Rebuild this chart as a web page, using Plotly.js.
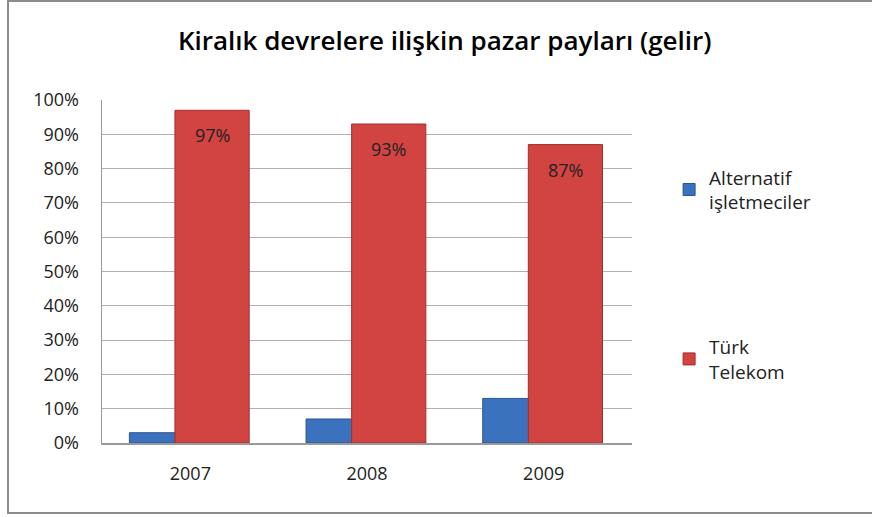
<!DOCTYPE html>
<html><head><meta charset="utf-8">
<script src="https://cdn.plot.ly/plotly-3.0.1.min.js"></script>
<style>body{margin:0;padding:0;background:#fff;overflow:hidden}#wrap{position:relative;width:872px;height:517px;overflow:hidden}#frame{position:absolute;left:7px;top:0px;width:880px;height:514px;border:2px solid #8c8c8c;pointer-events:none;box-sizing:border-box}</style>
</head><body>
<div id="wrap"><div id="chart" style="width:872px;height:517px"></div><div id="frame"></div></div>
<script>
const years = ['2007', '2008', '2009'];
const alternatif = [3, 7, 13];
const turkTelekom = [97, 93, 87];
const seriesNames = ['Alternatif<br>işletmeciler', 'Türk<br>Telekom'];
const yTicks = [0,10,20,30,40,50,60,70,80,90,100];

const font = "'Open Sans', Calibri, sans-serif";
const redOffset = -0.087, barWidth = 0.42;
const traces = [
  {type:'bar', x:years, y:alternatif, name:seriesNames[0], legendgroup:'a',
   offset:-0.345, width:barWidth,
   marker:{color:'#3b72bd', line:{color:'#2c5590', width:1}}, hoverinfo:'y'},
  {type:'bar', x:years, y:turkTelekom, name:seriesNames[1], legendgroup:'b',
   offset:redOffset, width:barWidth,
   marker:{color:'#d24442', line:{color:'#9e2f2d', width:1}}, hoverinfo:'y'}
];
const annotations = years.map((yr,i)=>({
  x: i + redOffset + barWidth/2, y: turkTelekom[i], xref:'x', yref:'y',
  text: turkTelekom[i] + '%', showarrow:false,
  yshift: -25, yanchor:'middle',
  font:{family:font, size:18, color:'#222'}
}));
const layout = {
  width:872, height:517,
  margin:{l:102, r:240, t:100, b:74},
  paper_bgcolor:'#fff', plot_bgcolor:'#fff',
  barmode:'overlay',
  annotations: annotations,
  title:{text:'Kiralık devrelere ilişkin pazar payları (gelir)', x:0.51, xanchor:'center', y:0.92, yanchor:'middle',
    font:{family:font, size:26, color:'#000', weight:600}},
  xaxis:{type:'category', range:[-0.5, 2.5], showgrid:false, showline:true, linecolor:'#9a9a9a', linewidth:1.5,
    ticks:'', tickfont:{family:font, size:18, color:'#222'}, ticklabelstandoff:14},
  yaxis:{range:[0,100], tickvals:yTicks, ticktext:yTicks.map(v=>v+'%'),
    showgrid:true, gridcolor:'#b0b0b0', gridwidth:1, showline:true, linecolor:'#9a9a9a', linewidth:1.5,
    ticks:'', zeroline:false, ticklabelstandoff:18,
    tickfont:{family:font, size:18, color:'#222'}},
  legend:{x:1.07, y:0.83, xanchor:'left', yanchor:'top', traceorder:'grouped', tracegroupgap:117,
    font:{family:font, size:19, color:'#222'}, itemwidth:30},
  showlegend:true
};
Plotly.newPlot('chart', traces, layout, {displayModeBar:false, staticPlot:true});
</script>
</body></html>
